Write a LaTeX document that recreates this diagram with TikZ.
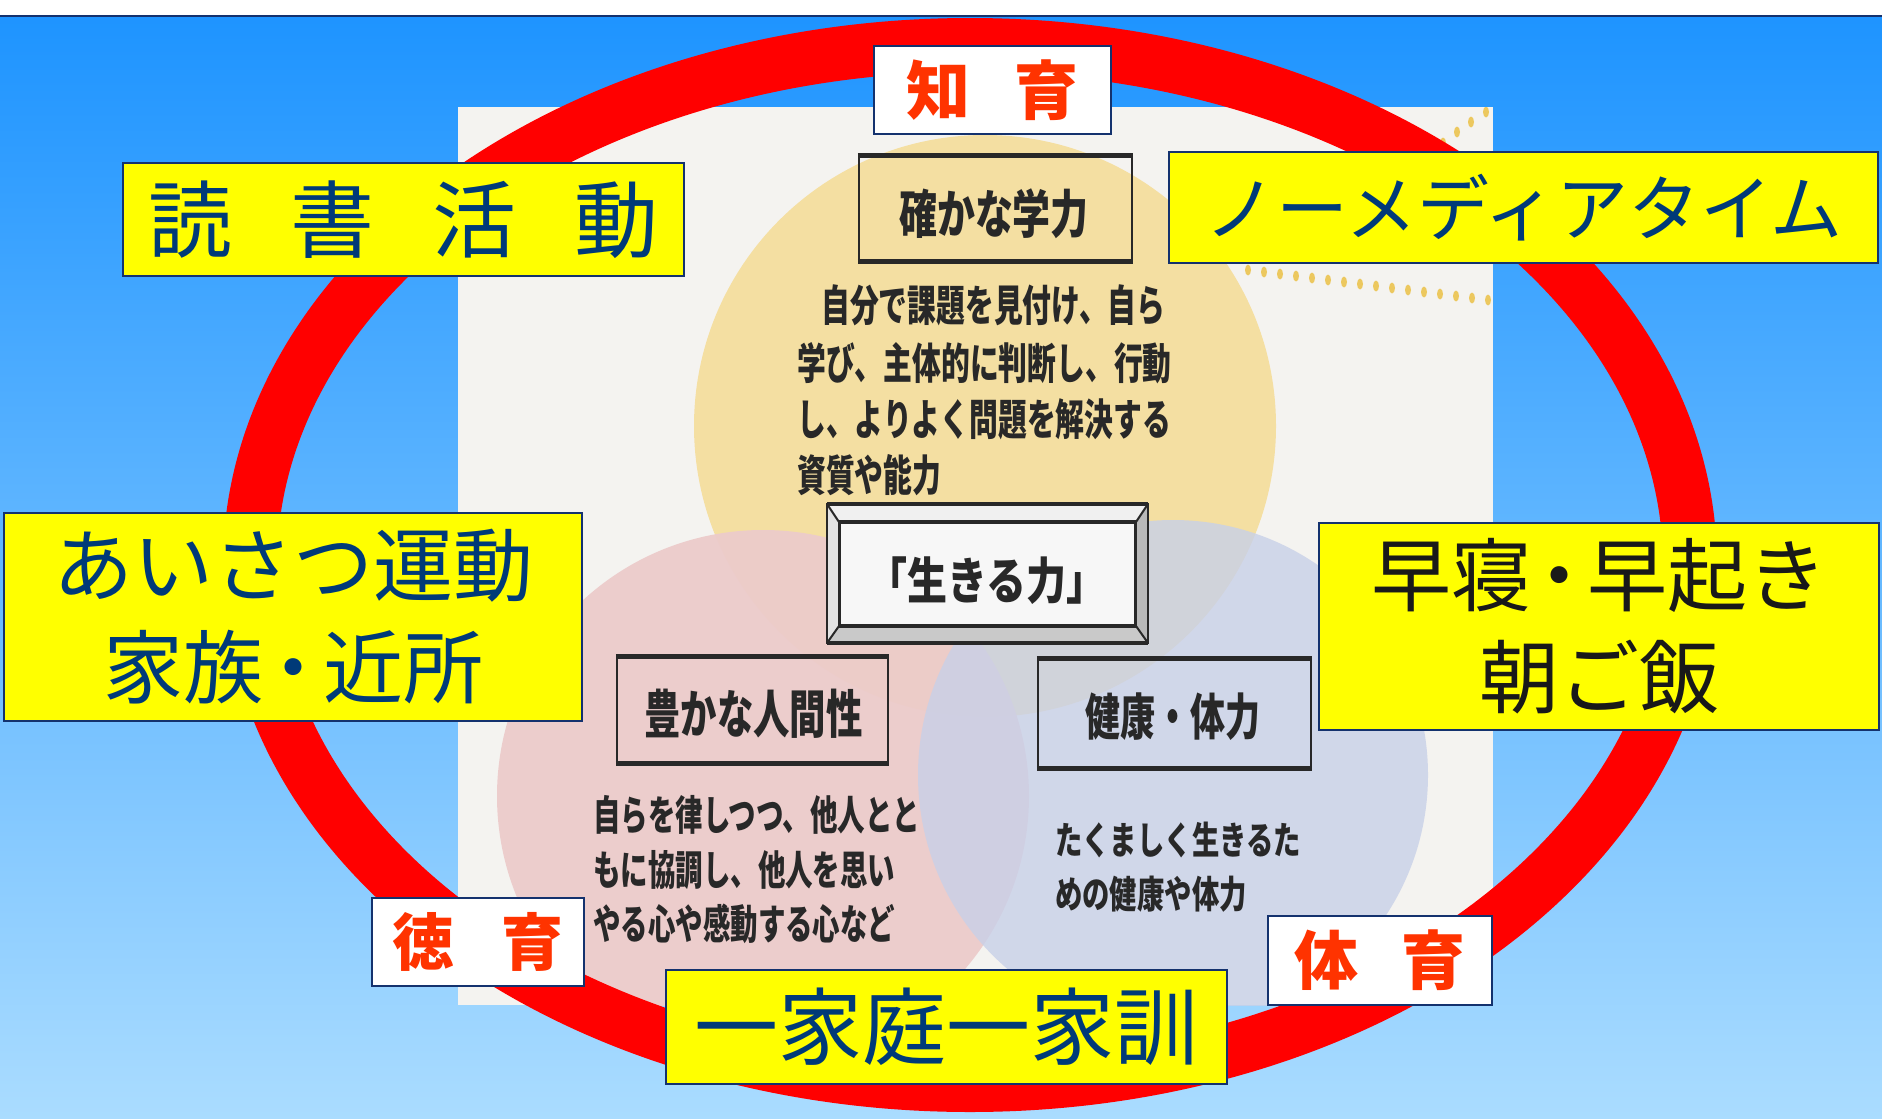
\documentclass[tikz,border=0pt]{standalone}
\usepackage{fontspec}
\usepackage{graphicx}
\newfontfamily\jp{Noto Sans CJK JP}
\newcommand\fsz[1]{\fontsize{#1pt}{#1pt}\selectfont}
\newcommand\cnd[2]{\scalebox{#1}[1]{#2}}
\definecolor{bgtop}{RGB}{30,148,255}
\definecolor{bgbot}{RGB}{170,220,255}
\definecolor{ringred}{RGB}{255,0,0}
\definecolor{boxnavy}{RGB}{20,50,110}
\definecolor{txtnavy}{RGB}{0,58,120}
\definecolor{txtblack}{RGB}{25,25,25}
\definecolor{lblred}{RGB}{255,51,0}
\definecolor{boxyel}{RGB}{255,255,0}
\definecolor{scanbg}{RGB}{244,243,240}
\definecolor{cyel}{RGB}{244,223,162}
\definecolor{cpink}{RGB}{236,203,203}
\definecolor{cblue}{RGB}{200,208,232}
\definecolor{scanink}{RGB}{40,40,40}
\definecolor{dotyel}{RGB}{236,200,95}
\tikzset{
  ybox/.style={draw=boxnavy, line width=2.5pt, fill=boxyel, inner sep=0pt, text=txtnavy, align=center},
  wbox/.style={draw=boxnavy, line width=2.5pt, fill=white, inner sep=0pt, font=\jp\bfseries, text=lblred},
  sbox/.style={draw=scanink, line width=2.2pt, inner sep=0pt},
  sbar/.style={draw=scanink, line width=5pt},
  slbl/.style={inner sep=0pt, font=\jp\bfseries, text=scanink},
  stxt/.style={inner sep=0pt, font=\jp\bfseries, text=scanink, anchor=west},
  ydot/.style={fill=dotyel},
}
\begin{document}
\begin{tikzpicture}[x=1pt,y=-1pt]
\useasboundingbox (0,0) rectangle (1882,1119);
% background
\shade[top color=bgtop, bottom color=bgbot] (0,16) rectangle (1882,1119);
\fill[white] (0,0) rectangle (1882,15);
\draw[boxnavy, line width=2pt] (0,16) -- (1882,16);
% scanned picture
\fill[scanbg] (458,107) rectangle (1493,1005);
\begin{scope}
  \clip (458,107) rectangle (1493,1005);
  \fill[cyel] (985,426) circle [radius=291];
  \fill[cpink, fill opacity=0.95] (763,796) circle [radius=266];
  \fill[cblue, fill opacity=0.8] (1173,775) circle [radius=255];
  \foreach \i in {0,...,15}
    \fill[ydot] ({1248+16*\i},{270+2*\i}) ellipse [x radius=3, y radius=5.5];
  \foreach \p in {(1443,143),(1457,132),(1471,122),(1486,112)}
    \fill[ydot] \p ellipse [x radius=3, y radius=5.5];
\end{scope}
% 確かな学力
\node[sbox, minimum width=273, minimum height=103] (kg) at (995.5,208.5) {};
\draw[sbar] (kg.north west) -- (kg.north east);
\draw[sbar] (kg.south west) -- (kg.south east);
\node[slbl] (kgt) at (994,214) {\cnd{0.73}{\fsz{52}確かな学力}};
\node[stxt] (k1) at (821,305) {\cnd{0.67}{\fsz{43}自分で課題を見付け、自ら}};
\node[stxt] (k2) at (797,363) {\cnd{0.67}{\fsz{43}学び、主体的に判断し、行動}};
\node[stxt] (k3) at (797,419) {\cnd{0.67}{\fsz{43}し、よりよく問題を解決する}};
\node[stxt] (k4) at (797,475) {\cnd{0.67}{\fsz{43}資質や能力}};
% 生きる力
\node[draw=scanink, line width=2pt, fill=gray!20, minimum width=319, minimum height=137, inner sep=0pt] (gk) at (987.5,573.5) {};
\node[draw=scanink, line width=2pt, fill=white!94!gray, minimum width=295, minimum height=102, inner sep=0pt] (gki) at (987.5,574) {};
\fill[gray!12] (gk.north west) -- (gk.north east) -- (gki.north east) -- (gki.north west) -- cycle;
\fill[gray!55] (gk.north east) -- (gk.south east) -- (gki.south east) -- (gki.north east) -- cycle;
\fill[gray!42] (gk.south west) -- (gk.south east) -- (gki.south east) -- (gki.south west) -- cycle;
\fill[gray!22] (gk.north west) -- (gk.south west) -- (gki.south west) -- (gki.north west) -- cycle;
\draw[scanink, line width=2pt] (gk.north west) -- (gki.north west) (gk.north east) -- (gki.north east)
  (gk.south west) -- (gki.south west) (gk.south east) -- (gki.south east);
\draw[scanink, line width=2pt] (gk.north west) rectangle (gk.south east);
\draw[scanink, line width=4pt] (gk.north west) -- (gk.north east) (gk.south west) -- (gk.south east)
  (gki.north west) -- (gki.north east) (gki.south west) -- (gki.south east);
\draw[scanink, line width=2pt] (gki.north west) rectangle (gki.south east);
\node[slbl] (gkt) at (987,581) {\cnd{0.8}{\fsz{50}「生きる力」}};
% 豊かな人間性
\node[sbox, minimum width=271, minimum height=104] (hn) at (752.5,710) {};
\draw[sbar] (hn.north west) -- (hn.north east);
\draw[sbar] (hn.south west) -- (hn.south east);
\node[slbl] (hnt) at (753.5,714) {\cnd{0.7}{\fsz{52}豊かな人間性}};
\node[stxt] (h1) at (593,815) {\cnd{0.67}{\fsz{41}自らを律しつつ、他人とと}};
\node[stxt] (h2) at (593,870) {\cnd{0.67}{\fsz{41}もに協調し、他人を思い}};
\node[stxt] (h3) at (593,924) {\cnd{0.67}{\fsz{41}やる心や感動する心など}};
% 健康・体力
\node[sbox, minimum width=273, minimum height=107] (kt) at (1174.5,713.5) {};
\draw[sbar] (kt.north west) -- (kt.north east);
\draw[sbar] (kt.south west) -- (kt.south east);
\node[slbl] (ktt) at (1173,717) {\cnd{0.7}{\fsz{50}健康・体力}};
\node[stxt] (b1) at (1055,840) {\cnd{0.72}{\fsz{38}たくましく生きるた}};
\node[stxt] (b2) at (1055,894) {\cnd{0.72}{\fsz{38}めの健康や体力}};
% red ring
\draw[ringred, line width=54pt] (970,565) ellipse [x radius=720, y radius=520];
% labels
\node[wbox, minimum width=237, minimum height=88] (chi) at (992.5,90) {\fsz{64}知\hspace{44pt}育};
\node[wbox, minimum width=212, minimum height=88] (toku) at (478,942) {\fsz{62}徳\hspace{47pt}育};
\node[wbox, minimum width=224, minimum height=89] (tai) at (1380,960.5) {\fsz{64}体\hspace{43pt}育};
\node[ybox, font=\jp\fsz{84}, minimum width=561, minimum height=113] (dokusho) at (403.5,219.5) {読\hspace{58pt}書\hspace{58pt}活\hspace{58pt}動};
\node[ybox, font=\jp\fsz{72}, minimum width=709, minimum height=111] (nomedia) at (1523.5,207.5) {ノーメディアタイム};
\node[ybox, font={\jp\fontsize{80pt}{102pt}\selectfont}, minimum width=578, minimum height=208] (aisatsu) at (293,617) {あいさつ運動\\家族\kern-10pt・\kern-10pt近所};
\node[ybox, text=txtblack, font={\jp\fontsize{80pt}{102pt}\selectfont}, minimum width=560, minimum height=207] (hayane) at (1599,626.5) {早寝\kern-12pt・\kern-12pt早起き\\朝ご飯};
\node[ybox, font=\jp\fsz{84}, minimum width=561, minimum height=114] (kakun) at (946.5,1027) {一家庭一家訓};
\end{tikzpicture}
\end{document}
